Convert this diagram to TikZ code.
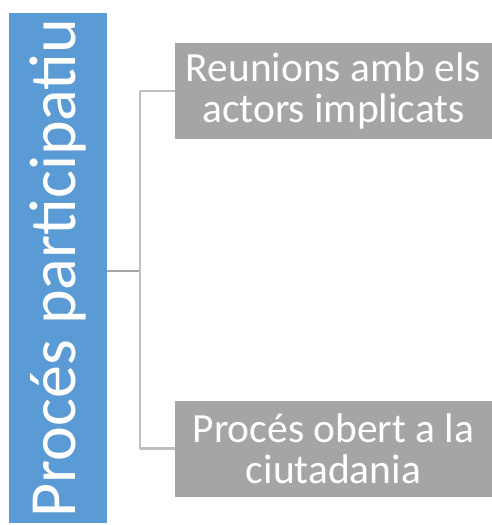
\documentclass[tikz,border=0pt]{standalone}
\usepackage{fontspec}
\setmainfont{Carlito}
\usepackage{xcolor}
\usetikzlibrary{positioning}
\definecolor{procblue}{HTML}{5B9BD5}
\definecolor{itemgrey}{HTML}{A5A5A5}
\definecolor{bracegrey}{HTML}{BFBFBF}

\begin{document}
\begin{tikzpicture}[x=1pt, y=-1pt,
  proc/.style={fill=procblue, inner sep=0pt, minimum width=98pt, minimum height=510pt},
  item/.style={fill=itemgrey, text=white, inner sep=0pt, minimum width=317pt, minimum height=96pt,
    align=center, font=\fontsize{41.5}{41}\selectfont},
  brace/.style={draw=bracegrey, line width=2.2pt}]
  \useasboundingbox (0,0) rectangle (492,525);
  \node[proc] (P) at (58,268) {};
  \node[rotate=90, text=white, font=\fontsize{66}{66}\selectfont] (Pt) at (P.center) {Procés participatiu};
  \node[item] (R) at (333.5,91) {Reunions amb els\\actors implicats};
  \node[item] (O) at (333.5,448.5) {Procés obert a la\\ciutadania};
  \coordinate (B) at (140,271);
  \draw[brace, draw=itemgrey] (P.east |- B) -- (B);
  \draw[brace] (B |- R.west) |- (R.west);
  \draw[brace] (B |- O.west) |- (O.west);
  \draw[brace] (B |- R.west) -- (B |- O.west);
\end{tikzpicture}
\end{document}
